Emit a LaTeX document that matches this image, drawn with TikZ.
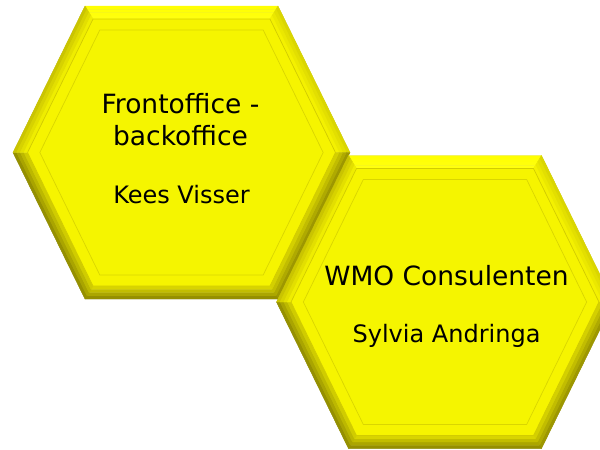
\documentclass[tikz,border=0pt]{standalone}
\usepackage{fontspec}
\setmainfont{DejaVu Sans}
\definecolor{facecol}{HTML}{F5F500}
\definecolor{bandcol}{HTML}{F6F400}
\definecolor{lineA}{HTML}{D2CC00}
\definecolor{lineB}{HTML}{DAD600}
\definecolor{topO}{HTML}{FFFF00}
\definecolor{topI}{HTML}{FFFF10}
\definecolor{urO}{HTML}{D6D200}
\definecolor{urI}{HTML}{F8F600}
\definecolor{lrO}{HTML}{948E00}
\definecolor{lrI}{HTML}{DEDA00}
\definecolor{botO}{HTML}{8A8400}
\definecolor{botI}{HTML}{E4E000}
\definecolor{llO}{HTML}{8C8600}
\definecolor{llI}{HTML}{DAD600}
\definecolor{ulO}{HTML}{C4BE00}
\definecolor{ulI}{HTML}{F6F400}
\tikzset{
  titletext/.style={font=\fontsize{26.5}{32}\selectfont, align=center, inner sep=0pt, anchor=base, text=black},
  subtext/.style={font=\fontsize{24}{28}\selectfont, inner sep=0pt, anchor=base, text=black},
  shadowlayer/.style={fill=black, fill opacity=0.10},
}
% ring of six corner coordinates, inset by #4
\newcommand\hexring[4]{%
  \pgfmathsetmacro\hxw{168.5-1.118*#4}%
  \pgfmathsetmacro\hxh{146.5-#4}%
  \pgfmathsetmacro\hxt{96.5-0.618*#4}%
  \coordinate (#1-1) at ({#2-\hxt},{#3-\hxh});
  \coordinate (#1-2) at ({#2+\hxt},{#3-\hxh});
  \coordinate (#1-3) at ({#2+\hxw},{#3});
  \coordinate (#1-4) at ({#2+\hxt},{#3+\hxh});
  \coordinate (#1-5) at ({#2-\hxt},{#3+\hxh});
  \coordinate (#1-6) at ({#2-\hxw},{#3});
}
\newcommand\hexpoly[1]{(#1-1) -- (#1-2) -- (#1-3) -- (#1-4) -- (#1-5) -- (#1-6) -- cycle}
\newcommand\bevelhex[3]{%
  \foreach \k in {0,...,4} {\hexring{#1r\k}{#2}{#3}{3.25*\k}}
  \hexring{#1in}{#2}{#3}{24}
  % shadow
  \foreach \s in {1.5,3,4.5} {\fill[shadowlayer, yshift=-\s pt] \hexpoly{#1r0};}
  % bevel strips
  \foreach \a/\b/\co/\ci in {1/2/topO/topI, 2/3/urO/urI, 3/4/lrO/lrI, 4/5/botO/botI, 5/6/llO/llI, 6/1/ulO/ulI} {
    \foreach \k in {0,...,3} {
      \pgfmathtruncatemacro\kn{\k+1}
      \pgfmathtruncatemacro\p{12+25*\k}
      \filldraw[fill=\ci!\p!\co, draw=\ci!\p!\co, line width=0.4pt, line join=round]
        (#1r\k-\a) -- (#1r\k-\b) -- (#1r\kn-\b) -- (#1r\kn-\a) -- cycle;
    }
  }
  \fill[bandcol] \hexpoly{#1r4};
  \fill[facecol] \hexpoly{#1in};
  \draw[lineA, line width=0.7pt] \hexpoly{#1r4};
  \draw[lineB, line width=0.7pt] \hexpoly{#1in};
}
\begin{document}
\begin{tikzpicture}[x=1pt, y=-1pt]
\useasboundingbox (0,0) rectangle (600,450);
\clip (0,0) rectangle (600,450);
\fill[white] (0,0) rectangle (600,450);
\bevelhex{ha}{181.5}{152.5}
\bevelhex{hb}{445}{302}
\node[titletext] (t1) at (180.5,145) {Frontoffice -\\backoffice};
\node[subtext] (s1) at (181.5,203) {Kees Visser};
\node[titletext] (t2) at (446.5,285) {WMO Consulenten};
\node[subtext] (s2) at (446.5,342) {Sylvia Andringa};
\end{tikzpicture}
\end{document}
